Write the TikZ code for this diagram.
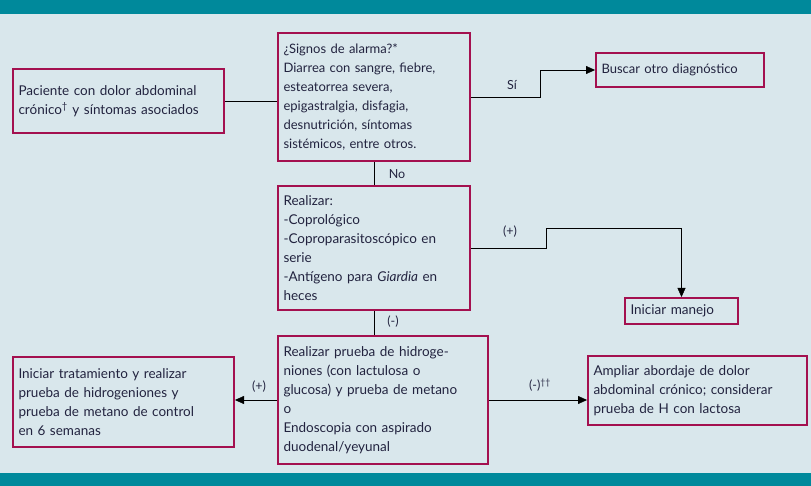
\documentclass[tikz,border=0pt]{standalone}
\usepackage{fontspec}
\setmainfont{Lato}
\usetikzlibrary{arrows.meta}
\definecolor{fondo}{HTML}{D9E7EC}
\definecolor{franja}{HTML}{00899B}
\definecolor{borde}{HTML}{A4104F}
\definecolor{tinta}{HTML}{22233F}
\def\flecha{\draw[-{Triangle[length=9pt,width=8pt]}]}
\def\linea{\draw}

\begin{document}
\begin{tikzpicture}[x=1pt,y=-1pt,
    caja/.style={draw=borde,line width=2pt,anchor=north west,align=left,
      inner xsep=5.5pt,inner ysep=0pt,text=tinta,
      font=\fontsize{13.5}{19}\selectfont},
    chica/.style={font=\fontsize{13}{19}\selectfont},
    etiqueta/.style={text=tinta,inner sep=1pt,font=\fontsize{12.5}{14}\selectfont}]
                \useasboundingbox (0,0) rectangle (811,486);
                \fill[fondo] (0,0) rectangle (811,486);
                \fill[franja] (0,0) rectangle (811,14);
                \fill[franja] (0,473) rectangle (811,486);
                % cajas
                \node[caja,text width=200pt,minimum height=64pt] (pac) at (12,68)
                  {Paciente con dolor abdominal\\crónico\textsuperscript{†} y síntomas asociados};
                \node[caja,chica,text width=181pt,minimum height=128pt] (alarma) at (277,32)
                  {¿Signos de alarma?*\\Diarrea con sangre, fiebre,\\esteatorrea severa,\\epigastralgia, disfagia,\\desnutrición, síntomas\\sistémicos, entre otros.};
                \node[caja,chica,text width=157pt,minimum height=34pt] (otro) at (595,52)
                  {Buscar otro diagnóstico};
                \node[caja,text width=181pt,minimum height=124pt] (realizar) at (277,185)
                  {Realizar:\\-Coprológico\\-Coproparasitoscópico en\\serie\\-Antígeno para \textit{Giardia} en\\heces};
                \node[caja,text width=102pt,minimum height=26pt] (manejo) at (624,297)
                  {Iniciar manejo};
                \node[caja,text width=199pt,minimum height=128pt] (prueba) at (277,335)
                  {Realizar prueba de hidroge-\\niones (con lactulosa o\\glucosa) y prueba de metano\\o\\Endoscopia con aspirado\\duodenal/yeyunal};
                \node[caja,text width=210pt,minimum height=90pt] (trat) at (12,356)
                  {Iniciar tratamiento y realizar\\prueba de hidrogeniones y\\prueba de metano de control\\en 6 semanas};
                \node[caja,text width=208pt,minimum height=69pt] (ampliar) at (587,355)
                  {Ampliar abordaje de dolor\\abdominal crónico; considerar\\prueba de H con lactosa};
                % conectores
                \linea (pac.east) -- (pac.east -| alarma.west);
                \flecha (alarma.east) -- ++(69,0) |- (otro.west);
                \linea (alarma.south) -- (realizar.north);
                \flecha (realizar.east) -- ++(75,0) -- ++(0,-20) -| (manejo.north);
                \linea (realizar.south) -- (realizar.south |- prueba.north);
                \flecha (prueba.west) -- (prueba.west -| trat.east);
                \flecha (prueba.east) -- (prueba.east -| ampliar.west);
                % etiquetas
                \node[etiqueta] (si) at (512,85) {Sí};
                \node[etiqueta] (no) at (397,174) {No};
                \node[etiqueta] (pos1) at (510,232) {(+)};
                \node[etiqueta] (neg1) at (393,322) {(-)};
                \node[etiqueta] (pos2) at (259,387) {(+)};
                \node[etiqueta] (neg2) at (540,385) {(-)\textsuperscript{††}};
            \end{tikzpicture}
\end{document}
